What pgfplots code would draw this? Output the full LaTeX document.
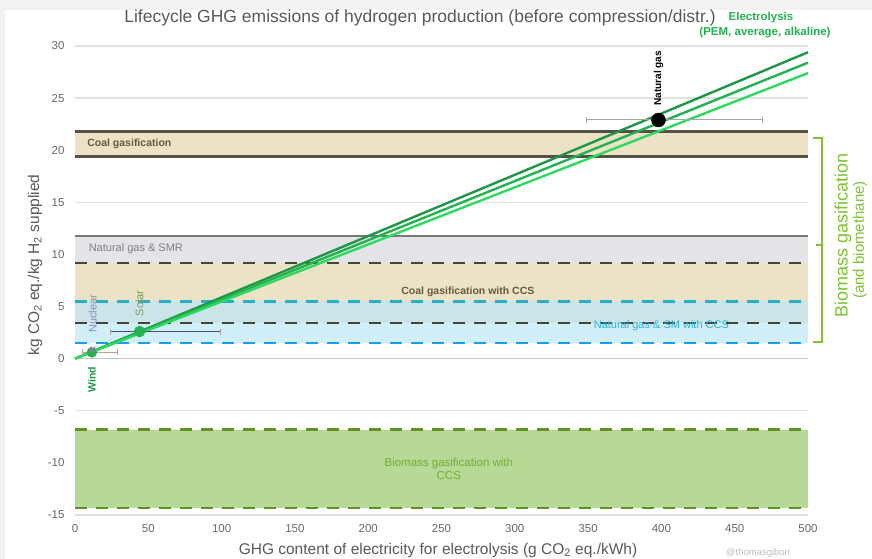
\documentclass[border=0pt]{standalone}
\usepackage{pgfplots}
\pgfplotsset{compat=1.18}
\usepackage{fontspec}
\setmainfont{Liberation Sans}
\definecolor{coalfill}{RGB}{236,226,198}
\definecolor{coalline}{RGB}{85,80,65}
\definecolor{coaltext}{RGB}{100,90,60}
\definecolor{smrfill}{RGB}{228,228,232}
\definecolor{smrline}{RGB}{120,120,120}
\definecolor{ccsdash}{RGB}{70,70,55}
\definecolor{bluefill}{RGB}{185,230,250}
\definecolor{tealdash}{RGB}{40,175,200}
\definecolor{bluedash}{RGB}{20,160,235}
\definecolor{bluetext}{RGB}{40,180,225}
\definecolor{biofill}{RGB}{182,217,150}
\definecolor{biodash}{RGB}{95,145,35}
\definecolor{biotext}{RGB}{115,175,45}
\definecolor{gA}{RGB}{30,150,70}
\definecolor{gB}{RGB}{35,178,80}
\definecolor{gC}{RGB}{45,218,95}
\definecolor{bioG}{RGB}{125,195,50}
\definecolor{txtgray}{RGB}{105,105,105}
\begin{document}
\begin{tikzpicture}
\fill[black!5] (0pt,0pt) rectangle (872pt,559pt);
\fill[white] (5pt,0pt) rectangle (872pt,549pt);
\path[use as bounding box] (0pt,0pt) rectangle (872pt,559pt);
\begin{axis}[
  at={(75pt,44pt)}, anchor=south west,
  scale only axis, width=733pt, height=469pt,
  xmin=0, xmax=500, ymin=-15, ymax=30,
  xtick={0,50,...,500}, ytick={-15,-10,...,30},
  axis line style={draw=none}, tick style={draw=none},
  ymajorgrids, grid style={color=black!12, line width=1.3pt},
  clip=false,
  /pgf/number format/assume math mode=true,
  ticklabel style={font=\fontsize{11.5}{13}\selectfont, text=txtgray},
  xticklabel style={yshift=-6pt},
  yticklabel style={xshift=-7pt},
]
% reference line at zero
\addplot[black!22, line width=1.3pt] coordinates {(0,0) (500,0)};
% Coal gasification band
\addplot[fill=coalfill, draw=none] coordinates {(0,19.4) (500,19.4) (500,21.8) (0,21.8)} -- cycle;
\addplot[coalline, line width=2.6pt] coordinates {(0,21.8) (500,21.8)};
\addplot[coalline, line width=2.6pt] coordinates {(0,19.4) (500,19.4)};
% Natural gas & SMR
\addplot[fill=smrfill, draw=none] coordinates {(0,9.2) (500,9.2) (500,11.8) (0,11.8)} -- cycle;
\addplot[smrline, line width=2.2pt] coordinates {(0,11.8) (500,11.8)};
% Coal gasification with CCS
\addplot[fill=coalfill, draw=none] coordinates {(0,3.4) (500,3.4) (500,9.2) (0,9.2)} -- cycle;
% Natural gas SMR with CCS
\addplot[fill=bluefill, fill opacity=0.65, draw=none] coordinates {(0,1.5) (500,1.5) (500,5.5) (0,5.5)} -- cycle;
% Biomass gasification with CCS
\addplot[fill=biofill, draw=none] coordinates {(0,-14.3) (500,-14.3) (500,-6.8) (0,-6.8)} -- cycle;
% dashed boundaries
\addplot[ccsdash, line width=2.4pt, dash pattern=on 12pt off 9pt] coordinates {(0,9.2) (500,9.2)};
\addplot[ccsdash, line width=2.4pt, dash pattern=on 12pt off 9pt] coordinates {(0,3.4) (500,3.4)};
\addplot[tealdash, line width=2.4pt, dash pattern=on 12pt off 9pt] coordinates {(0,5.5) (500,5.5)};
\addplot[bluedash, line width=2.4pt, dash pattern=on 12pt off 9pt] coordinates {(0,1.5) (500,1.5)};
\addplot[biodash, line width=2.4pt, dash pattern=on 12pt off 9pt] coordinates {(0,-6.8) (500,-6.8)};
\addplot[biodash, line width=2.4pt, dash pattern=on 12pt off 9pt] coordinates {(0,-14.3) (500,-14.3)};
% band labels
\node[anchor=west, text=coaltext, font=\bfseries\fontsize{10.5}{12}\selectfont] at (axis cs:6,20.6) {Coal gasification};
\node[anchor=west, text=black!50, font=\fontsize{11}{12}\selectfont] at (axis cs:7,10.6) {Natural gas \& SMR};
\node[text=coaltext, font=\bfseries\fontsize{10.5}{12}\selectfont] at (axis cs:268,6.4) {Coal gasification with CCS};
\node[text=bluetext, font=\fontsize{11}{12}\selectfont] at (axis cs:400,3.2) {Natural gas \& SM with CCS};
\node[text=biotext, align=center, font=\fontsize{11.5}{13}\selectfont] at (axis cs:255,-10.6) {Biomass gasification with\\CCS};
% electrolysis lines
\addplot[gA, line width=2.4pt] coordinates {(0,0) (500,29.4)};
\addplot[gB, line width=2.4pt] coordinates {(0,0) (500,28.4)};
\addplot[gC, line width=2.4pt] coordinates {(0,0) (500,27.4)};
% points with ranges
\addplot[only marks, mark=*, mark size=7pt, black,
  error bars/.cd, x dir=both, x explicit,
  error bar style={black!35, line width=1pt},
  error mark options={rotate=90, black!35, mark size=3pt, line width=1pt}]
  coordinates {(398,22.9) += (71,0) -= (49,0)};
\addplot[only marks, mark=*, mark size=5.5pt, gB,
  error bars/.cd, x dir=both, x explicit,
  error bar style={black!35!blue!40!gray, line width=1pt},
  error mark options={rotate=90, black!35, mark size=3pt, line width=1pt}]
  coordinates {(44,2.6) += (55,0) -= (20,0)};
\addplot[only marks, mark=*, mark size=5pt, gB,
  error bars/.cd, x dir=both, x explicit,
  error bar style={red!30!gray!60, line width=1pt},
  error mark options={rotate=90, red!30!gray!60, mark size=3pt, line width=1pt}]
  coordinates {(11.5,0.6) += (17.5,0) -= (6.5,0)};
\addplot[only marks, mark=x, mark size=3.5pt, violet!60, line width=1.2pt] coordinates {(12,0.9)};
% point labels
\node[rotate=90, font=\bfseries\fontsize{10}{12}\selectfont] at (axis cs:398,26.9) {Natural gas};
\node[rotate=90, text=gA, font=\bfseries\fontsize{10.5}{12}\selectfont] at (axis cs:11.5,-2.0) {Wind};
\node[rotate=90, text=blue!30!gray!70, font=\fontsize{11}{12}\selectfont] at (axis cs:12,4.3) {Nuclear};
\node[rotate=90, text=olive!50!green!50!gray, font=\fontsize{11}{12}\selectfont] at (axis cs:44,5.3) {Solar};
\end{axis}
% titles and axis labels
\node[text=black!65, font=\fontsize{17.5}{20}\selectfont] at (420pt,541pt) {Lifecycle GHG emissions of hydrogen production (before compression/distr.)};
\node[text=gB, font=\bfseries\fontsize{11.5}{13}\selectfont] at (761pt,541pt) {Electrolysis};
\node[text=gB, font=\bfseries\fontsize{11.5}{13}\selectfont] at (765pt,526pt) {(PEM, average, alkaline)};
\node[text=black!65, font=\fontsize{15.5}{18}\selectfont] at (438pt,9pt) {GHG content of electricity for electrolysis (g CO\textsubscript{2} eq./kWh)};
\node[rotate=90, text=black!65, font=\fontsize{15.5}{18}\selectfont] at (35pt,294pt) {kg CO\textsubscript{2} eq./kg H\textsubscript{2} supplied};
\node[text=black!25, font=\fontsize{9.5}{11}\selectfont] at (758pt,6pt) {@thomasgibon};
% biomass gasification bracket
\draw[bioG, line width=2pt] (813pt,421pt) -- (822pt,421pt) -- (822pt,217pt) -- (813pt,217pt);
\draw[bioG, line width=2pt] (822pt,314pt) -- (816pt,314pt);
\node[rotate=90, text=bioG, font=\fontsize{18}{21}\selectfont] at (843pt,324pt) {Biomass gasification};
\node[rotate=90, text=bioG, font=\fontsize{15}{18}\selectfont] at (860pt,319pt) {(and biomethane)};
\end{tikzpicture}
\end{document}
